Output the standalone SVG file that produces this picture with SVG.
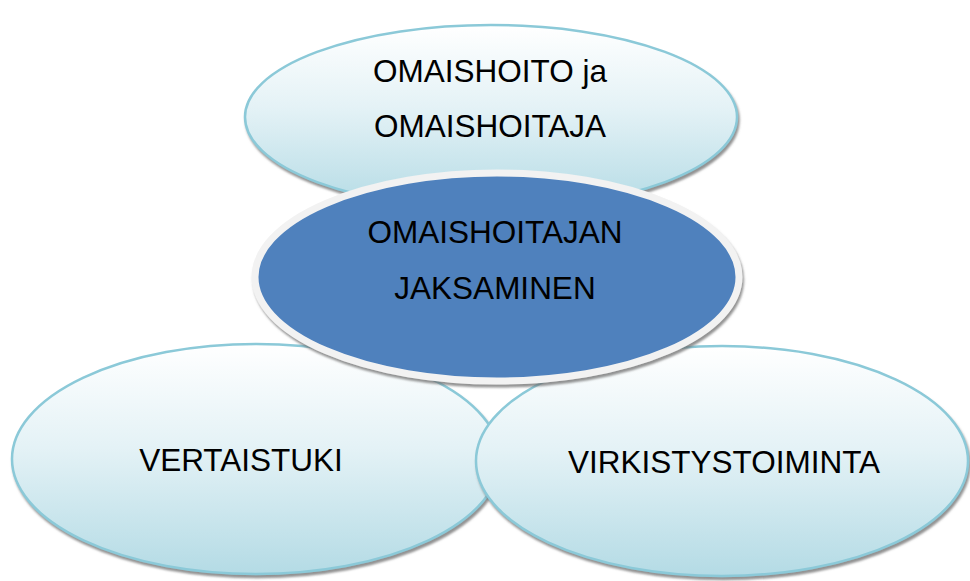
<svg xmlns="http://www.w3.org/2000/svg" width="970" height="581" viewBox="0 0 970 581">
<defs>
<linearGradient id="lb" x1="0" y1="0" x2="0" y2="1">
<stop offset="0" stop-color="#ffffff"/>
<stop offset="0.45" stop-color="#e4f2f6"/>
<stop offset="1" stop-color="#b4dbe5"/>
</linearGradient>
<filter id="sh" x="-10%" y="-10%" width="120%" height="130%">
<feDropShadow dx="1.5" dy="3" stdDeviation="1" flood-color="#6e6e6e" flood-opacity="0.75"/>
</filter>
</defs>
<style>
.lt{fill:url(#lb);stroke:#8bc9d8;stroke-width:2.5;filter:url(#sh)}
.ctr{fill:#4f81bd;stroke:#f2f2f2;stroke-width:7;filter:url(#sh)}
text{font-family:"Liberation Sans",Arial,sans-serif;font-size:31.5px;fill:#000;text-anchor:middle}
</style>
<g id="connectors"></g>
<g id="n-vertaistuki">
<ellipse class="lt" cx="256" cy="459" rx="244" ry="115"/>
<text x="241" y="471">VERTAISTUKI</text>
</g>
<g id="n-virkistys">
<ellipse class="lt" cx="722" cy="461" rx="246" ry="115"/>
<text x="724" y="473">VIRKISTYSTOIMINTA</text>
</g>
<g id="n-omaishoito">
<ellipse class="lt" cx="491" cy="117" rx="246" ry="92"/>
<text x="490" y="82">OMAISHOITO ja</text>
<text x="490" y="137">OMAISHOITAJA</text>
</g>
<g id="n-jaksaminen">
<ellipse class="ctr" cx="497" cy="277" rx="242" ry="104"/>
<text x="495" y="243">OMAISHOITAJAN</text>
<text x="495" y="299">JAKSAMINEN</text>
</g>
</svg>
